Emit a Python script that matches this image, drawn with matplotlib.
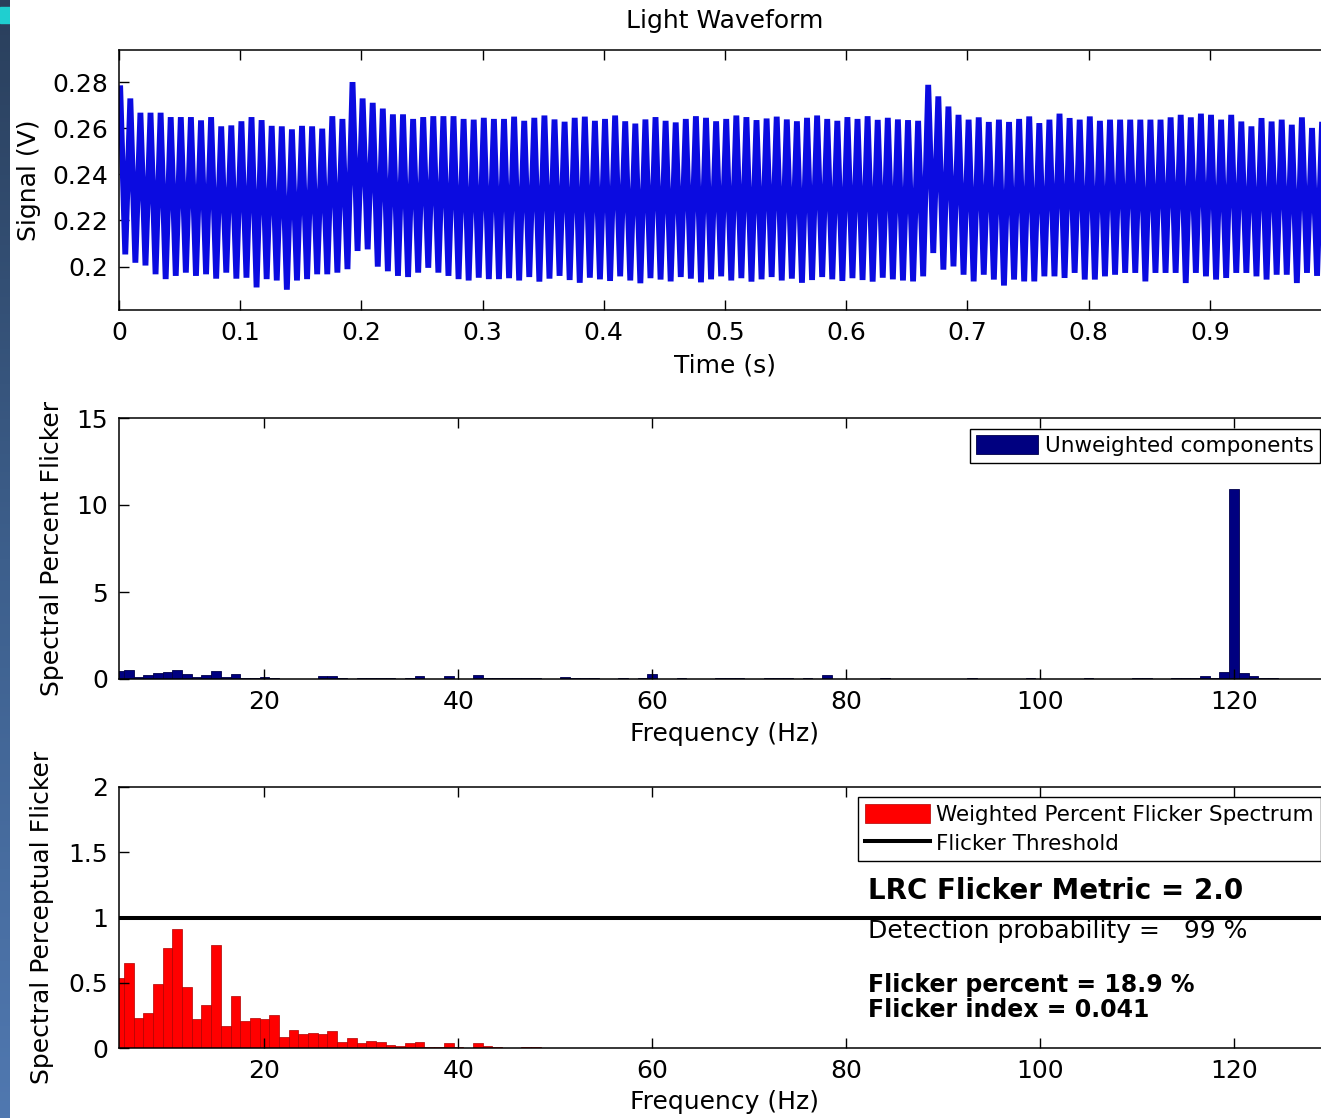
import numpy as np
import matplotlib
matplotlib.use("Agg")
import matplotlib.pyplot as plt
from matplotlib.patches import Rectangle
from matplotlib.colors import LinearSegmentedColormap

# ---- light waveform: peak / trough of every 120 Hz ripple cycle (V)
peaks = [
    0.2773, 0.2729, 0.2667, 0.2667, 0.2667, 0.2648, 0.2648, 0.2648, 0.2634, 0.2648,
    0.2608, 0.2612, 0.2630, 0.2648, 0.2635, 0.2610, 0.2608, 0.2595, 0.2610, 0.2608,
    0.2598, 0.2652, 0.2640, 0.2800, 0.2729, 0.2710, 0.2685, 0.2660, 0.2660, 0.2640,
    0.2648, 0.2652, 0.2652, 0.2652, 0.2640, 0.2637, 0.2645, 0.2640, 0.2640, 0.2650,
    0.2632, 0.2645, 0.2655, 0.2638, 0.2628, 0.2645, 0.2650, 0.2632, 0.2640, 0.2655,
    0.2630, 0.2620, 0.2638, 0.2648, 0.2632, 0.2625, 0.2640, 0.2652, 0.2645, 0.2630,
    0.2640, 0.2655, 0.2648, 0.2635, 0.2642, 0.2650, 0.2638, 0.2630, 0.2645, 0.2655,
    0.2640, 0.2632, 0.2648, 0.2640, 0.2652, 0.2636, 0.2645, 0.2638, 0.2635, 0.2632,
    0.2788, 0.2738, 0.2694, 0.2658, 0.2637, 0.2647, 0.2627, 0.2637, 0.2627, 0.2640,
    0.2651, 0.2622, 0.2637, 0.2663, 0.2644, 0.2637, 0.2651, 0.2632, 0.2637, 0.2637,
    0.2637, 0.2637, 0.2637, 0.2637, 0.2647, 0.2658, 0.2647, 0.2663, 0.2658, 0.2637,
    0.2658, 0.2629, 0.2608, 0.2644, 0.2629, 0.2637, 0.2615, 0.2647, 0.2601, 0.2630,
]
troughs = [
    0.2053, 0.2017, 0.2005, 0.1967, 0.1946, 0.1960, 0.1974, 0.1960, 0.1967, 0.1948,
    0.1974, 0.1948, 0.1952, 0.1910, 0.1946, 0.1940, 0.1900, 0.1940, 0.1946, 0.1967,
    0.1967, 0.1974, 0.1989, 0.2068, 0.2075, 0.2000, 0.1980, 0.1960, 0.1955, 0.1974,
    0.1995, 0.1974, 0.1960, 0.1946, 0.1940, 0.1952, 0.1946, 0.1946, 0.1950, 0.1940,
    0.1955, 0.1935, 0.1948, 0.1960, 0.1942, 0.1930, 0.1952, 0.1945, 0.1938, 0.1958,
    0.1940, 0.1928, 0.1950, 0.1944, 0.1936, 0.1955, 0.1948, 0.1932, 0.1945, 0.1958,
    0.1940, 0.1950, 0.1935, 0.1945, 0.1955, 0.1940, 0.1948, 0.1930, 0.1942, 0.1955,
    0.1945, 0.1938, 0.1950, 0.1942, 0.1935, 0.1952, 0.1945, 0.1940, 0.1936, 0.1958,
    0.2059, 0.1987, 0.2001, 0.1965, 0.1936, 0.1965, 0.1944, 0.1918, 0.1944, 0.1936,
    0.1936, 0.1958, 0.1958, 0.1951, 0.1973, 0.1944, 0.1944, 0.1958, 0.1965, 0.1973,
    0.1973, 0.1936, 0.1973, 0.1973, 0.1973, 0.1929, 0.1973, 0.1958, 0.1944, 0.1951,
    0.1973, 0.1973, 0.1958, 0.1944, 0.1965, 0.1965, 0.1929, 0.1973, 0.1960, 0.1960,
]
ripple_hz = 120
t_start = 0.001

time_ticks = [0, 0.1, 0.2, 0.3, 0.4, 0.5, 0.6, 0.7, 0.8, 0.9, 1.0]
time_labels = ["0", "0.1", "0.2", "0.3", "0.4", "0.5", "0.6", "0.7", "0.8", "0.9", ""]
signal_ticks = [0.2, 0.22, 0.24, 0.26, 0.28]
signal_labels = ["0.2", "0.22", "0.24", "0.26", "0.28"]

# ---- unweighted spectral percent flicker, 1 Hz bins from 5 Hz
freq_unw = np.arange(5, 125)
unweighted = [
    0.48, 0.54, 0.10, 0.23, 0.34, 0.42, 0.50, 0.31, 0.11, 0.23,
    0.44, 0.10, 0.29, 0.04, 0.04, 0.10, 0.06, 0.02, 0.02, 0.02,
    0.02, 0.19, 0.19, 0.06, 0.02, 0.08, 0.06, 0.06, 0.08, 0.02,
    0.06, 0.15, 0.02, 0.02, 0.15, 0.02, 0.02, 0.23, 0.06, 0.06,
    0.06, 0.06, 0.06, 0.06, 0.02, 0.02, 0.13, 0.06, 0.06, 0.06,
    0.02, 0.02, 0.06, 0.02, 0.06, 0.29, 0.02, 0.02, 0.06, 0.02,
    0.02, 0.02, 0.06, 0.06, 0.06, 0.02, 0.02, 0.06, 0.06, 0.06,
    0.02, 0.06, 0.02, 0.23, 0.02, 0.02, 0.02, 0.02, 0.02, 0.04,
    0.02, 0.02, 0.02, 0.02, 0.02, 0.02, 0.02, 0.02, 0.04, 0.02,
    0.02, 0.02, 0.02, 0.02, 0.04, 0.02, 0.02, 0.02, 0.02, 0.02,
    0.04, 0.02, 0.02, 0.02, 0.02, 0.04, 0.04, 0.02, 0.02, 0.04,
    0.06, 0.06, 0.18, 0.06, 0.43, 10.9, 0.33, 0.20, 0.08, 0.08,
]

# ---- weighted (perceptual) spectrum
freq_w = np.arange(5, 49)
weighted = [
    0.54, 0.65, 0.23, 0.27, 0.49, 0.77, 0.91, 0.47, 0.22, 0.33,
    0.79, 0.17, 0.40, 0.21, 0.23, 0.22, 0.25, 0.085, 0.14, 0.105,
    0.115, 0.11, 0.133, 0.044, 0.077, 0.038, 0.056, 0.046, 0.023, 0.013,
    0.036, 0.046, 0.01, 0.01, 0.036, 0.01, 0.0, 0.036, 0.012, 0.01,
    0.0, 0.0, 0.01, 0.01,
]
freq_ticks = [20, 40, 60, 80, 100, 120]
threshold = 1.0

lrc_metric = 2.0
detection_prob = 99
flicker_percent = 18.9
flicker_index = 0.041

plt.rcParams["font.family"] = ["DejaVu Sans"]

W, H = 1321, 1118
fig = plt.figure(figsize=(W / 100, H / 100), dpi=100)
fig.patch.set_facecolor("white")


def px_axes(left, top, right, bottom):
    return fig.add_axes([left / W, 1 - bottom / H, (right - left) / W, (bottom - top) / H])


def style(ax):
    for s in ax.spines.values():
        s.set_linewidth(1.1)
    ax.tick_params(direction="in", top=True, right=True, length=7, width=1,
                   labelsize=18, pad=8)


# ---- top: waveform
ax1 = px_axes(119, 50, 1331, 310)
n = len(peaks)
t_peak = t_start + np.arange(n) / ripple_hz
t_trough = t_peak + 0.5 / ripple_hz
tx = np.column_stack([t_peak, t_trough]).ravel()
vy = np.column_stack([peaks, troughs]).ravel()
ax1.plot(tx, vy, color="#0b0be0", lw=4.2, solid_joinstyle="bevel")
ax1.set_xlim(0, 1)
ax1.set_ylim(0.1812, 0.2939)
ax1.set_xticks(time_ticks)
ax1.set_xticklabels(time_labels)
ax1.set_yticks(signal_ticks)
ax1.set_yticklabels(signal_labels)
style(ax1)
ax1.text(0.5, 1 + 29 / 260, "Light Waveform", transform=ax1.transAxes,
         ha="center", va="center", fontsize=18)
ax1.set_xlabel("Time (s)", fontsize=18, labelpad=6)
ax1.set_ylabel("Signal (V)", fontsize=18, labelpad=8)

# ---- middle: unweighted components
ax2 = px_axes(119, 418, 1331, 679)
ax2.bar(freq_unw, unweighted, width=1.0, color="#000080", edgecolor="#00004a",
        linewidth=0.6, label="Unweighted components")
ax2.set_xlim(5, 130)
ax2.set_ylim(0, 15)
ax2.set_xticks(freq_ticks)
ax2.set_yticks([0, 5, 10, 15])
style(ax2)
ax2.set_xlabel("Frequency (Hz)", fontsize=18, labelpad=6)
ax2.set_ylabel("Spectral Percent Flicker", fontsize=18, labelpad=9)
leg2 = ax2.legend(loc="upper right", fontsize=15.5, fancybox=False, framealpha=1,
                  edgecolor="black", borderpad=0.3, handlelength=2.9,
                  handleheight=1.0, handletextpad=0.3, borderaxespad=0.5)
leg2.get_frame().set_linewidth(1.0)

# ---- bottom: weighted spectrum with threshold
ax3 = px_axes(119, 787, 1331, 1048)
bars_w = ax3.bar(freq_w, weighted, width=1.0, color="#ff0000", edgecolor="#b00000",
                 linewidth=0.5, label="Weighted Percent Flicker Spectrum")
thr_line = ax3.axhline(threshold, color="black", lw=2.9, label="Flicker Threshold")
ax3.set_xlim(5, 130)
ax3.set_ylim(0, 2)
ax3.set_xticks(freq_ticks)
ax3.set_yticks([0, 0.5, 1, 1.5, 2])
ax3.set_yticklabels(["0", "0.5", "1", "1.5", "2"])
style(ax3)
ax3.set_xlabel("Frequency (Hz)", fontsize=18, labelpad=5)
ax3.set_ylabel("Spectral Perceptual Flicker", fontsize=18, labelpad=10)
leg3 = ax3.legend(handles=[bars_w, thr_line], loc="upper right", fontsize=15.5,
                  fancybox=False, framealpha=1, edgecolor="black", borderpad=0.35,
                  handlelength=3.0, handleheight=1.0, handletextpad=0.3,
                  borderaxespad=0.45, labelspacing=0.35)
leg3.get_frame().set_linewidth(1.0)

ax3.text(82.2, 1.2, f"LRC Flicker Metric = {lrc_metric:.1f}", fontsize=20,
         fontweight="bold", va="center", ha="left")
ax3.text(82.2, 0.9, f"Detection probability =   {detection_prob} %", fontsize=18,
         va="center", ha="left")
ax3.text(82.2, 0.485, f"Flicker percent = {flicker_percent} %", fontsize=17,
         fontweight="bold", va="center", ha="left")
ax3.text(82.2, 0.29, f"Flicker index = {flicker_index}", fontsize=17,
         fontweight="bold", va="center", ha="left")

# ---- slide edge strip on the left
strip = fig.add_axes([0, 0, 10 / W, 1])
grad = np.linspace(0, 1, 256).reshape(-1, 1)
cmap = LinearSegmentedColormap.from_list("edge", ["#2a3f5c", "#3d5f8c", "#5078b0"])
strip.imshow(grad, aspect="auto", cmap=cmap, extent=[0, 1, 1, 0])
strip.add_patch(Rectangle((0, 7 / H), 1, 16 / H, color="#1fcfd0"))
strip.set_xlim(0, 1)
strip.set_ylim(1, 0)
strip.axis("off")

fig.savefig("out.png", dpi=100)
